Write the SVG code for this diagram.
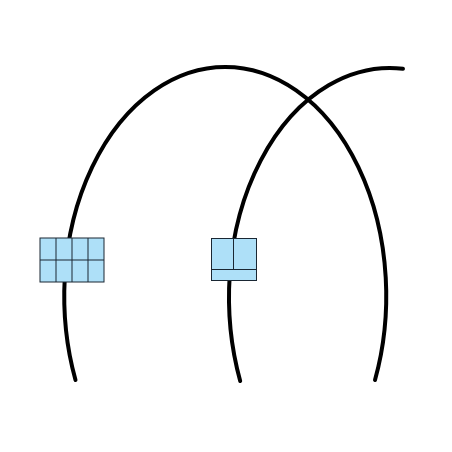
<svg xmlns="http://www.w3.org/2000/svg" width="452" height="452" viewBox="0 0 452 452">
<style>
.curve{fill:none;stroke:#000;stroke-width:4;stroke-linecap:round}
.box{fill:#aee0f8;stroke:#1a2733;stroke-width:1}
.grid{stroke:#1a2733;stroke-width:1;fill:none}
</style>
<rect width="452" height="452" fill="#fff"/>
<g id="connectors">
<path class="curve" d="M 75.5 380 A 161 229 0 1 1 375 380"/>
<path class="curve" d="M 240.2 381 A 161 229 0 0 1 403 68.8"/>
</g>
<g id="node1">
<rect class="box" x="40" y="238" width="64" height="44"/>
<path class="grid" d="M56 238V282M72 238V282M88 238V282M40 260H104"/>
</g>
<g id="node2">
<rect class="box" x="211.5" y="238.5" width="45" height="42"/>
<path class="grid" d="M233.5 238.5V269.5M211.5 269.5H256.5"/>
</g>
</svg>
